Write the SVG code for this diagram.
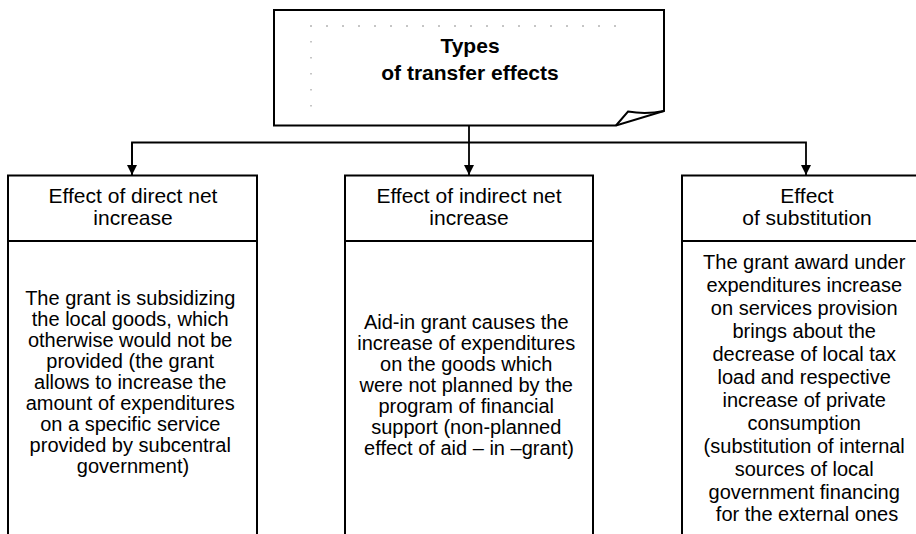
<svg xmlns="http://www.w3.org/2000/svg" width="916" height="534" viewBox="0 0 916 534">
  <style>
    .frame { fill: #ffffff; stroke: #000000; stroke-width: 2; }
    .edge { fill: none; stroke: #000000; stroke-width: 2; }
    .dots { fill: none; stroke: #8c8c8c; stroke-width: 1; }
    .link { fill: none; stroke: #000000; stroke-width: 1.8; }
    .title { font-family: "Liberation Sans", Arial, sans-serif; font-size: 21px; font-weight: bold; fill: #000000; text-anchor: middle; }
    .head { font-family: "Liberation Sans", Arial, sans-serif; font-size: 21px; fill: #000000; text-anchor: middle; }
    .body { font-family: "Liberation Sans", Arial, sans-serif; font-size: 20px; fill: #000000; text-anchor: middle; }
  </style>
  <defs>
    <marker id="arrow" markerUnits="userSpaceOnUse" markerWidth="12" markerHeight="12" refX="10" refY="5" orient="auto">
      <path d="M0,0 L10,5 L0,10 Z" fill="#000000"/>
    </marker>
  </defs>
  <rect width="916" height="534" fill="#ffffff"/>

  <!-- root: note-shaped box with a folded corner -->
  <g id="types">
    <path class="frame" d="M274,10 H664 V111 L616,125.5 H274 Z"/>
    <path class="edge" d="M616,125.5 L628,111.5 Q646,114.5 664,111"/>
    <line class="dots" x1="310" y1="26" x2="620" y2="26" stroke-dasharray="2 14"/>
    <line class="dots" x1="311" y1="41" x2="311" y2="108" stroke-dasharray="1.5 14.5"/>
    <text class="title" x="470" y="53">Types</text>
    <text class="title" x="470" y="80">of transfer effects</text>
  </g>

  <!-- connectors -->
  <g id="connectors">
    <path class="link" d="M469,126 V175" marker-end="url(#arrow)"/>
    <path class="link" d="M132,175 V142.5 H806 V175" marker-end="url(#arrow)"/>
    <path class="link" d="M132,142.5 V175" marker-end="url(#arrow)"/>
  </g>

  <!-- left column -->
  <g id="direct">
    <path class="edge" d="M8,545 V175.5 H257 V545"/>
    <line class="edge" x1="8" y1="241" x2="257" y2="241"/>
    <text class="head" x="133" y="203">Effect of direct net</text>
    <text class="head" x="133" y="225">increase</text>
    <text class="body">
      <tspan x="133" y="305">The grant is subsidizing</tspan>
      <tspan x="133" y="326">the local goods, which</tspan>
      <tspan x="133" y="347">otherwise would not be</tspan>
      <tspan x="133" y="368">provided (the grant</tspan>
      <tspan x="133" y="389">allows to increase the</tspan>
      <tspan x="133" y="410">amount of expenditures</tspan>
      <tspan x="133" y="431">on a specific service</tspan>
      <tspan x="133" y="452">provided by subcentral</tspan>
      <tspan x="133" y="473">government)</tspan>
    </text>
  </g>

  <!-- middle column -->
  <g id="indirect">
    <path class="edge" d="M345,545 V175.5 H593 V545"/>
    <line class="edge" x1="345" y1="241" x2="593" y2="241"/>
    <text class="head" x="469" y="203">Effect of indirect net</text>
    <text class="head" x="469" y="225">increase</text>
    <text class="body">
      <tspan x="469" y="329">Aid-in grant causes the</tspan>
      <tspan x="469" y="350">increase of expenditures</tspan>
      <tspan x="469" y="371">on the goods which</tspan>
      <tspan x="469" y="392">were not planned by the</tspan>
      <tspan x="469" y="413">program of financial</tspan>
      <tspan x="469" y="434">support (non-planned</tspan>
      <tspan x="469" y="455">effect of aid – in –grant)</tspan>
    </text>
  </g>

  <!-- right column -->
  <g id="substitution">
    <path class="edge" d="M682,545 V175.5 H940"/>
    <line class="edge" x1="682" y1="241" x2="940" y2="241"/>
    <text class="head" x="807" y="203">Effect</text>
    <text class="head" x="807" y="225">of substitution</text>
    <text class="body">
      <tspan x="807" y="269">The grant award under</tspan>
      <tspan x="807" y="292">expenditures increase</tspan>
      <tspan x="807" y="315">on services provision</tspan>
      <tspan x="807" y="338">brings about the</tspan>
      <tspan x="807" y="361">decrease of local tax</tspan>
      <tspan x="807" y="384">load and respective</tspan>
      <tspan x="807" y="407">increase of private</tspan>
      <tspan x="807" y="430">consumption</tspan>
      <tspan x="807" y="453">(substitution of internal</tspan>
      <tspan x="807" y="476">sources of local</tspan>
      <tspan x="807" y="499">government financing</tspan>
      <tspan x="807" y="521">for the external ones</tspan>
    </text>
  </g>
</svg>
